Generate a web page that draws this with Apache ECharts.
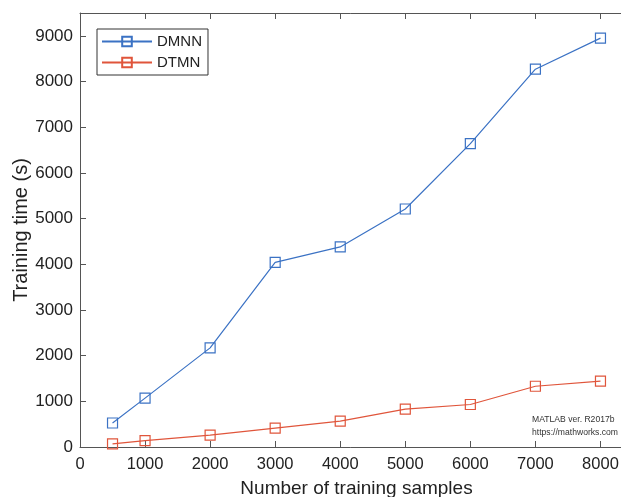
<!DOCTYPE html>
<html>
<head>
<meta charset="utf-8">
<script src="https://cdn.jsdelivr.net/npm/echarts@6/dist/echarts.min.js"></script>
<style>
  html, body {margin: 0; padding: 0; background: #fff;}
  #chart {width: 621px; height: 497px;}
</style>
</head>
<body>
<div id="chart"></div>
<script>
// DATA
const samples = [500, 1000, 2000, 3000, 4000, 5000, 6000, 7000, 8000];
const dmnn_time = [525, 1070, 2170, 4040, 4380, 5210, 6640, 8270, 8950];
const dtmn_time = [70, 140, 260, 415, 565, 830, 930, 1330, 1440];
const series_names = ["DMNN", "DTMN"];
const x_ticks = [0, 1000, 2000, 3000, 4000, 5000, 6000, 7000, 8000];
const y_ticks = [0, 1000, 2000, 3000, 4000, 5000, 6000, 7000, 8000, 9000];

const font = "'Liberation Sans', Arial, sans-serif";
const axis_grey = "#555";
const blue = "#3b72c4";
const red = "#e0553b";

function pairs(xs, ys){
  return xs.map((x, i) => [x, ys[i]]);
}

function lineSeries(name, data, color){
  return {
    name, type: 'line', data,
    symbol: 'rect', symbolSize: 10,
    showSymbol: true,
    lineStyle: {color, width: 1.2},
    itemStyle: {color: 'transparent', borderColor: color, borderWidth: 1.2},
    emphasis: {disabled: true}
  };
}

const chart = echarts.init(document.getElementById('chart'), null, {renderer: 'canvas'});

const xCommon = {
  type: 'value', min: 0, max: 8500, interval: 1000,
  splitLine: {show: false},
  axisLine: {show: true, onZero: false, lineStyle: {color: axis_grey, width: 1}},
  axisTick: {show: true, inside: true, length: 6, lineStyle: {color: axis_grey}},
};

chart.setOption({
  animation: false,
  textStyle: {fontFamily: font},
  grid: {left: 80, right: -12, top: 13, bottom: 50, containLabel: false, outerBoundsMode: 'none'},
  legend: {
    data: series_names,
    orient: 'vertical', left: 97, top: 29,
    itemWidth: 50, itemHeight: 12, itemGap: 6,
    padding: [5, 6, 5, 4],
    borderColor: '#333', borderWidth: 1, backgroundColor: '#fff',
    textStyle: {fontFamily: font, fontSize: 15, color: '#222'}
  },
  xAxis: [
    Object.assign({}, xCommon, {
      position: 'bottom',
      name: 'Number of training samples', nameLocation: 'middle', nameGap: 32,
      nameTextStyle: {fontFamily: font, fontSize: 19, color: '#222'},
      axisLabel: {
        fontFamily: font, fontSize: 16.5, color: '#222', margin: 9,
        formatter: v => x_ticks.includes(v) ? String(v) : ''
      }
    }),
    Object.assign({}, xCommon, {position: 'top', axisLabel: {show: false}})
  ],
  yAxis: [
    {
      type: 'value', min: 0, max: 9500, interval: 1000,
      splitLine: {show: false},
      axisLine: {show: true, lineStyle: {color: axis_grey, width: 1}},
      axisTick: {show: true, inside: true, length: 6, lineStyle: {color: axis_grey}},
      name: 'Training time (s)', nameLocation: 'middle', nameGap: 49,
      nameMoveOverlap: false,
      nameTextStyle: {fontFamily: font, fontSize: 20, color: '#222'},
      axisLabel: {
        fontFamily: font, fontSize: 17, color: '#222', margin: 7,
        formatter: v => y_ticks.includes(v) ? String(v) : ''
      }
    }
  ],
  graphic: [
    {type: 'text', right: 3, top: 413,
     style: {text: 'MATLAB ver. R2017b\nhttps://mathworks.com', fill: '#333',
             font: "8.6px 'Liberation Sans', Arial, sans-serif", lineHeight: 13, textAlign: 'left'}}
  ],
  series: [
    lineSeries(series_names[0], pairs(samples, dmnn_time), blue),
    lineSeries(series_names[1], pairs(samples, dtmn_time), red)
  ]
});
</script>
</body>
</html>
